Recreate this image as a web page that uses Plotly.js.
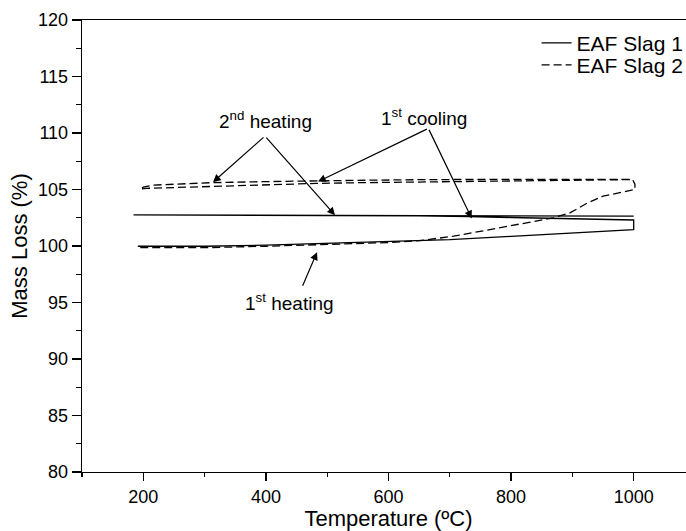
<!DOCTYPE html>
<html>
<head>
<meta charset="utf-8">
<script src="https://cdn.plot.ly/plotly-3.0.1.min.js"></script>
<style>
html, body { margin:0; padding:0; overflow:hidden; background:#fff; }
#chart { width:720px; height:531px; }
</style>
</head>
<body>
<div id="chart"></div>
<script>
// ---- Data ----
// EAF Slag 1 (solid)
var slag1Heat1T = [191, 300, 400, 500, 600, 700, 800, 900, 1000];
var slag1Heat1V = [99.98, 99.98, 100.08, 100.22, 100.36, 100.56, 100.85, 101.13, 101.45];
var slag1CoolT  = [1000, 1000, 912, 800, 730, 650, 500, 300, 184];
var slag1CoolV  = [101.45, 102.3, 102.42, 102.52, 102.6, 102.66, 102.7, 102.73, 102.75];
var slag1Heat2T = [184, 400, 600, 800, 1000];
var slag1Heat2V = [102.75, 102.71, 102.69, 102.66, 102.64];

// EAF Slag 2 (dashed)
var slag2Heat1T = [195, 300, 400, 500, 600, 651, 706, 760, 815, 869, 896, 923, 950, 978, 1002];
var slag2Heat1V = [99.85, 99.85, 99.98, 100.13, 100.3, 100.47, 100.87, 101.4, 101.93, 102.49, 102.93, 103.76, 104.41, 104.74, 105.0];
var slag2CoolT  = [1002, 1002, 998, 900, 800, 668, 550, 483, 400, 309, 250, 216, 200, 195];
var slag2CoolV  = [105.0, 105.47, 105.9, 105.9, 105.9, 105.88, 105.81, 105.77, 105.7, 105.6, 105.5, 105.39, 105.22, 105.05];
var slag2Heat2T = [195, 205, 250, 309, 400, 483, 550, 668, 787, 900, 1000];
var slag2Heat2V = [105.03, 105.1, 105.18, 105.26, 105.42, 105.54, 105.6, 105.68, 105.8, 105.85, 105.88];

var seriesNames = ['EAF Slag 1', 'EAF Slag 2'];
var xTicks = [200, 400, 600, 800, 1000];
var yTicks = [80, 85, 90, 95, 100, 105, 110, 115, 120];

// ---- Build traces ----
var FONT = 'Liberation Sans, Arial, Helvetica, sans-serif';
var slag1 = {
  x: slag1Heat1T.concat(slag1CoolT, slag1Heat2T),
  y: slag1Heat1V.concat(slag1CoolV, slag1Heat2V),
  type: 'scatter', mode: 'lines', name: seriesNames[0], legend: 'legend',
  line: { color: '#000', width: 1.3 }
};
var slag2 = {
  x: slag2Heat1T.concat(slag2CoolT, slag2Heat2T),
  y: slag2Heat1V.concat(slag2CoolV, slag2Heat2V),
  type: 'scatter', mode: 'lines', name: seriesNames[1], legend: 'legend2',
  line: { color: '#000', width: 1.3, dash: '8px,4px' }
};

function arrow(xTip, yTip, xTail, yTail) {
  return { x: xTip, y: yTip, ax: xTail, ay: yTail, axref: 'x', ayref: 'y',
    xref: 'x', yref: 'y', text: '', showarrow: true, arrowhead: 2,
    arrowsize: 1.3, arrowwidth: 1.2, arrowcolor: '#000', standoff: 0 };
}
function label(txt, x, y) {
  return { x: x, y: y, xref: 'x', yref: 'y', text: txt, showarrow: false,
    font: { family: FONT, size: 19, color: '#000' }, xanchor: 'center', yanchor: 'middle' };
}

var annotations = [
  label('2<sup>nd</sup> heating', 400, 111.17),
  label('1<sup>st</sup> cooling', 658, 111.4),
  label('1<sup>st</sup> heating', 439, 95.07),
  arrow(313.7, 105.65, 398.5, 109.73),
  arrow(512.7, 102.73, 398.5, 109.73),
  arrow(485, 105.7, 665, 110.41),
  arrow(735.7, 102.44, 665, 110.41),
  arrow(483.4, 99.45, 458.9, 96.35)
];

var legendBase = { xanchor: 'left', yanchor: 'top',
  font: { family: FONT, size: 21, color: '#000' }, bgcolor: 'rgba(0,0,0,0)', borderwidth: 0 };

var layout = {
  width: 720, height: 531,
  margin: { l: 82, r: 25, t: 20, b: 59 },
  paper_bgcolor: '#fff', plot_bgcolor: '#fff',
  font: { family: FONT, color: '#000', size: 18 },
  showlegend: true,
  legend: Object.assign({}, legendBase, { x: 0.7416, y: 0.9938 }),
  legend2: Object.assign({}, legendBase, { x: 0.7416, y: 0.9451 }),
  xaxis: {
    range: [100, 1100], tickvals: xTicks, ticks: 'outside', ticklen: 8, tickwidth: 1.3,
    tickcolor: '#000', showline: true, linecolor: '#000', linewidth: 1.3, mirror: true,
    showgrid: false, zeroline: false, tickfont: { family: FONT, size: 18 },
    minor: { dtick: 100, ticks: 'outside', ticklen: 4, tickwidth: 1.3, tickcolor: '#000', showgrid: false },
    title: { text: 'Temperature (ºC)', font: { family: FONT, size: 22 }, standoff: 4 }
  },
  yaxis: {
    range: [80, 120], tickvals: yTicks, ticks: 'outside', ticklen: 9, tickwidth: 1.3,
    tickcolor: '#000', showline: true, linecolor: '#000', linewidth: 1.3, mirror: true,
    showgrid: false, zeroline: false, tickfont: { family: FONT, size: 18 },
    minor: { dtick: 2.5, ticks: 'outside', ticklen: 5, tickwidth: 1.3, tickcolor: '#000', showgrid: false },
    title: { text: 'Mass Loss (%)', font: { family: FONT, size: 22 }, standoff: 4 }
  },
  annotations: annotations
};

Plotly.newPlot('chart', [slag1, slag2], layout, { displayModeBar: false, staticPlot: true });
</script>
</body>
</html>
